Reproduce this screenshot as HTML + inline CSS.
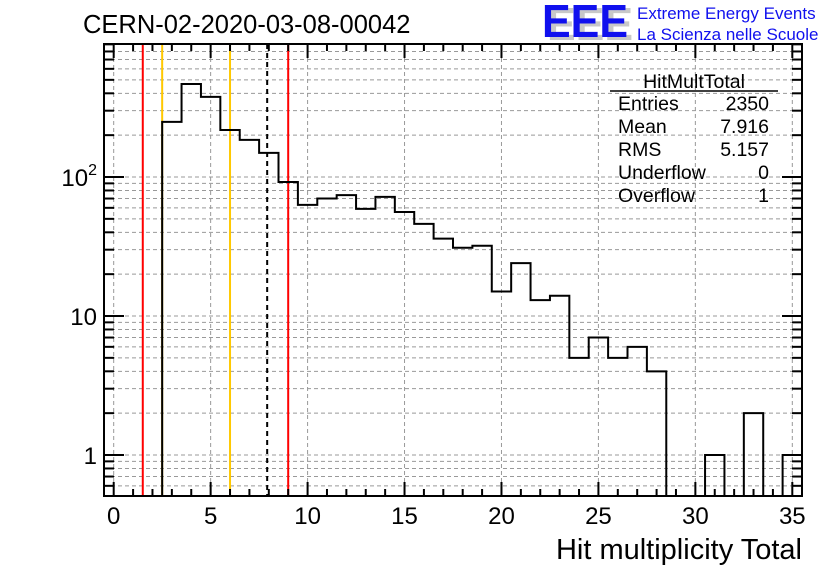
<!DOCTYPE html>
<html><head><meta charset="utf-8"><style>
body{margin:0;background:#fff;}
svg{display:block;font-family:"Liberation Sans",sans-serif;}
</style></head><body>
<svg id="c" width="836" height="572" viewBox="0 0 836 572">
<text x="83" y="33" font-size="25.5">CERN-02-2020-03-08-00042</text>
<g>
<text x="547" y="40" font-size="46" font-weight="bold" fill="#c8c8c8" textLength="86" lengthAdjust="spacingAndGlyphs">EEE</text>
<text x="542" y="37" font-size="46" font-weight="bold" fill="#1010ee" textLength="86" lengthAdjust="spacingAndGlyphs">EEE</text>
<text x="637" y="19" font-size="17" fill="#1010ee">Extreme Energy Events</text>
<text x="637" y="40" font-size="17" fill="#1010ee">La Scienza nelle Scuole</text>
</g>
<g id="grid"></g>
<g id="cuts"></g>
<g id="marks"></g>
<g id="axes"></g>
<g font-size="19.5">
<text x="694" y="88" text-anchor="middle">HitMultTotal</text>
<line x1="610" y1="91" x2="778" y2="91" stroke="#000" stroke-width="1.5"/>
<text x="618" y="110">Entries</text><text x="769" y="110" text-anchor="end">2350</text>
<text x="618" y="133">Mean</text><text x="769" y="133" text-anchor="end">7.916</text>
<text x="618" y="156">RMS</text><text x="769" y="156" text-anchor="end">5.157</text>
<text x="618" y="179">Underflow</text><text x="769" y="179" text-anchor="end">0</text>
<text x="618" y="202">Overflow</text><text x="769" y="202" text-anchor="end">1</text>
</g>
<text x="802" y="559" font-size="29" text-anchor="end">Hit multiplicity Total</text>
</svg>
<script>
const binCenters=[0,1,2,3,4,5,6,7,8,9,10,11,12,13,14,15,16,17,18,19,20,21,22,23,24,25,26,27,28,29,30,31,32,33,34,35];
const counts=[0,0,0,249,467,377,218,185,149,92,63,70,74,59,72,56,46,36,31,32,15,24,13,14,5,7,5,6,4,0,0,1,0,2,0,1];
const xTicks=[0,5,10,15,20,25,30,35];
const yTicks=[1,10,100];
const yTickLabels=["1","10","10²"];
const cutRed=[1.5,9];
const cutOrange=[2.5,6];
const meanValue=[7.916];
const L=104,R=802,T=44,B=496,XMIN=-0.5,XMAX=35.5,YMIN=0.5;
const NS="http://www.w3.org/2000/svg";
const xs=v=>L+(v-XMIN)*(R-L)/(XMAX-XMIN);
const ys=v=>455-Math.log10(v)*139;
function mk(t,a,p){const e=document.createElementNS(NS,t);for(const k in a)e.setAttribute(k,a[k]);p.appendChild(e);return e;}
const grid=document.getElementById('grid'),cuts=document.getElementById('cuts'),marks=document.getElementById('marks'),axes=document.getElementById('axes');
xTicks.forEach(v=>{const g=mk('line',{x1:xs(v),x2:xs(v),y1:T,y2:B,stroke:'#999','stroke-dasharray':'4,3','stroke-width':1},grid);

});
const minorY=[];
[0.1,1,10,100].forEach(d=>{for(let k=1;k<10;k++){const v=d*k;const y=ys(v);if(y<=B&&y>=T)minorY.push(v);}});
minorY.forEach(v=>{const g=mk('line',{x1:L,x2:R,y1:ys(v),y2:ys(v),stroke:'#999','stroke-dasharray':'4,3','stroke-width':1},grid);

});
cutRed.forEach(v=>{const l=mk('line',{x1:xs(v),x2:xs(v),y1:T,y2:B,stroke:'#f00','stroke-width':2},cuts);

});
cutOrange.forEach(v=>{const l=mk('line',{x1:xs(v),x2:xs(v),y1:T,y2:B,stroke:'#ffc800','stroke-width':2},cuts);

});
meanValue.forEach(v=>{const l=mk('line',{x1:xs(v),x2:xs(v),y1:T,y2:B,stroke:'#000','stroke-width':2,'stroke-dasharray':'5,4'},cuts);

});
let d='',started=false;
binCenters.forEach((c,i)=>{const x0=xs(c-0.5),x1=xs(c+0.5);const v=counts[i];const y=v>0?ys(v):B;
 if(!started){if(v>0){d+=`M${x0},${B}L${x0},${y}L${x1},${y}`;started=true;}}else{d+=`L${x0},${y}L${x1},${y}`;}});
d+=`L${xs(XMAX)},${B}`;
const h=mk('path',{d:d,fill:'none',stroke:'#000','stroke-width':2},marks);


const f=mk('rect',{x:L,y:T,width:R-L,height:B-T,fill:'none',stroke:'#000','stroke-width':2},axes);


for(let v=0;v<=35;v++){const len=(v%5===0)?14:7;
 mk('line',{x1:xs(v),x2:xs(v),y1:B,y2:B-len,stroke:'#000','stroke-width':2},axes);
 mk('line',{x1:xs(v),x2:xs(v),y1:T,y2:T+len,stroke:'#000','stroke-width':2},axes);}
minorY.forEach(v=>{const major=yTicks.includes(v);const len=major?20:10;
 mk('line',{x1:L,x2:L+len,y1:ys(v),y2:ys(v),stroke:'#000','stroke-width':2},axes);
 mk('line',{x1:R,x2:R-len,y1:ys(v),y2:ys(v),stroke:'#000','stroke-width':2},axes);});
xTicks.forEach(v=>{const t=mk('text',{x:xs(v),y:524,'font-size':24,'text-anchor':'middle'},axes);t.textContent=v;

});
yTicks.forEach((v,i)=>{const t=mk('text',{x:97,y:ys(v)+9,'font-size':24,'text-anchor':'end'},axes);
 if(yTickLabels[i]==="10²"){t.textContent='10';const s=mk('tspan',{dy:-11,'font-size':16},t);s.textContent='2';}
 else t.textContent=yTickLabels[i];

});
</script>
</body></html>
